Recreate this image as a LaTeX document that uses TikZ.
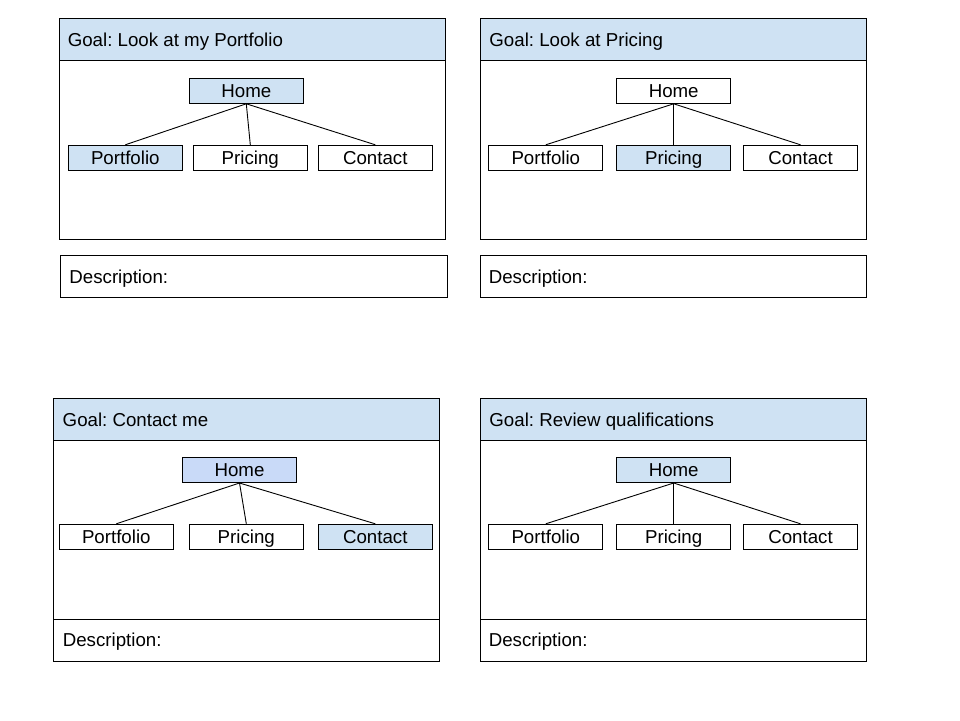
\documentclass[tikz,border=0pt]{standalone}
\usepackage{fontspec}
\setmainfont{Liberation Sans}
\frenchspacing
\definecolor{hdrblue}{HTML}{CFE2F3}
\definecolor{lavblue}{HTML}{C9DAF8}
\tikzset{
  frame/.style={draw=black, line width=1pt},
  hdr/.style={draw=black, line width=1pt, fill=hdrblue},
  lbl/.style={anchor=base west, inner sep=0pt, font=\fontsize{18.7}{22}\selectfont},
  pagebox/.style={draw=black, line width=1pt, minimum width=114pt, minimum height=25pt,
    inner sep=0pt, text height=13.4pt, text depth=0pt, font=\fontsize{18.7}{22}\selectfont},
  hl/.style={fill=hdrblue},
  hllav/.style={fill=lavblue},
  link/.style={draw=black, line width=0.9pt}
}
\begin{document}
\begin{tikzpicture}[x=1pt,y=-1pt]
\useasboundingbox (0,0) rectangle (960,720);
\fill[white] (0,0) rectangle (960,720);

% ---------- Panel 1 ----------
\draw[hdr] (59.3,18.3) rectangle (445.3,60);
\draw[frame] (59.3,18.3) rectangle (445.3,239.3);
\draw[frame] (60,255.7) rectangle (447.3,297.3);
\node[lbl] (t1) at (67.6,46.7) {Goal: Look at my Portfolio};
\node[lbl] (d1) at (69.2,283.3) {Description:};
\node[pagebox,hl] (h1) at (246.3,90.8) {Home};
\node[pagebox,hl] (po1) at (125.3,157.8) {Portfolio};
\node[pagebox] (pr1) at (250.3,157.8) {Pricing};
\node[pagebox] (c1) at (375.3,157.8) {Contact};
\draw[link] (h1.south) -- (po1.north);
\draw[link] (h1.south) -- (pr1.north);
\draw[link] (h1.south) -- (c1.north);

% ---------- Panel 2 ----------
\draw[hdr] (480.3,18.3) rectangle (866.3,60);
\draw[frame] (480.3,18.3) rectangle (866.3,239.3);
\draw[frame] (480.3,255.7) rectangle (866.3,297.3);
\node[lbl] (t2) at (489.2,46.7) {Goal: Look at Pricing};
\node[lbl] (d2) at (488.6,283.3) {Description:};
\node[pagebox] (h2) at (673.7,90.8) {Home};
\node[pagebox] (po2) at (545.8,157.8) {Portfolio};
\node[pagebox,hl] (pr2) at (673.7,157.8) {Pricing};
\node[pagebox] (c2) at (800.5,157.8) {Contact};
\draw[link] (h2.south) -- (po2.north);
\draw[link] (h2.south) -- (pr2.north);
\draw[link] (h2.south) -- (c2.north);

% ---------- Panel 3 ----------
\draw[hdr] (53.3,398.3) rectangle (439.3,440);
\draw[frame] (53.3,398.3) rectangle (439.3,661.7);
\draw[frame] (53.3,619.3) -- (439.3,619.3);
\node[lbl] (t3) at (62.5,426) {Goal: Contact me};
\node[lbl] (d3) at (62.6,646) {Description:};
\node[pagebox,hllav] (h3) at (239.5,470) {Home};
\node[pagebox] (po3) at (116.3,536.8) {Portfolio};
\node[pagebox] (pr3) at (246.3,536.8) {Pricing};
\node[pagebox,hl] (c3) at (375.3,536.8) {Contact};
\draw[link] (h3.south) -- (po3.north);
\draw[link] (h3.south) -- (pr3.north);
\draw[link] (h3.south) -- (c3.north);

% ---------- Panel 4 ----------
\draw[hdr] (480.3,398.3) rectangle (866.3,440);
\draw[frame] (480.3,398.3) rectangle (866.3,661.7);
\draw[frame] (480.3,619.3) -- (866.3,619.3);
\node[lbl] (t4) at (489.2,426) {Goal: Review qualifications};
\node[lbl] (d4) at (488.6,646) {Description:};
\node[pagebox,hl] (h4) at (673.7,470) {Home};
\node[pagebox] (po4) at (545.8,536.8) {Portfolio};
\node[pagebox] (pr4) at (673.7,536.8) {Pricing};
\node[pagebox] (c4) at (800.5,536.8) {Contact};
\draw[link] (h4.south) -- (po4.north);
\draw[link] (h4.south) -- (pr4.north);
\draw[link] (h4.south) -- (c4.north);
\end{tikzpicture}
\end{document}
